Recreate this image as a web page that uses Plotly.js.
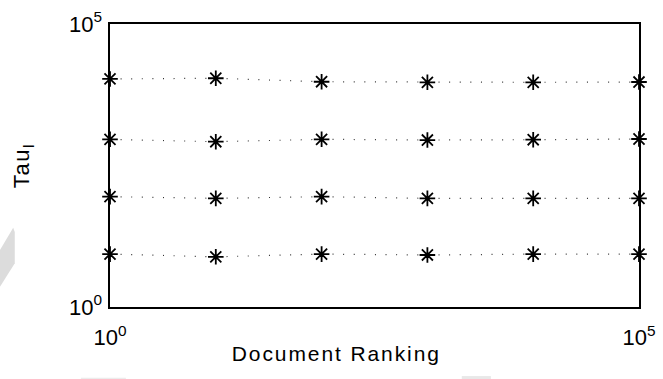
<!DOCTYPE html>
<html>
<head>
<meta charset="utf-8">
<script src="https://cdn.plot.ly/plotly-3.0.1.min.js"></script>
<style>
  html, body { margin: 0; padding: 0; background: #fff; }
  #chart { width: 663px; height: 379px; }
  /* slightly loose lettering for the axis titles */
  #chart .annotation-text { letter-spacing: 1.9px; }
  #chart .ytitle { letter-spacing: 1.6px; }
</style>
</head>
<body>
<div id="chart"></div>
<script>
// Document ranking positions (x) and the four tau_l levels measured at each
const ranks = [1, 10, 100, 1000, 10000, 100000];
const tauRow1 = [10700, 11000, 9550, 9330, 9330, 9440];
const tauRow2 = [918, 832, 918, 891, 903, 929];
const tauRow3 = [89, 83, 89, 83, 83, 83];
const tauRow4 = [8.6, 7.7, 8.6, 8.3, 8.6, 8.6];

// Decade tick labels shown on both axes
const tickValues = [1, 100000];
const tickLabels = ['10<sup>0</sup>', '10<sup>5</sup>'];

const xTitle = 'Document Ranking';
const yTitle = 'Tau<sub>l</sub>';

const rows = [tauRow1, tauRow2, tauRow3, tauRow4];
const FONT = 'Liberation Sans, Arial, Helvetica, sans-serif';

const traces = rows.map(vals => ({
  x: ranks,
  y: vals,
  type: 'scatter',
  mode: 'lines+markers',
  line: { color: '#333', width: 1.2, dash: '1px,9.6px' },
  marker: {
    symbol: 'asterisk-open',
    size: 13,
    color: '#000',
    line: { color: '#000', width: 1.8 }
  },
  cliponaxis: false,
  showlegend: false,
  hoverinfo: 'x+y'
}));

const axisBase = {
  type: 'log',
  range: [0, 5],
  showgrid: false,
  zeroline: false,
  showline: true,
  mirror: true,
  linecolor: '#000',
  linewidth: 1.6,
  ticks: '',
  tickmode: 'array',
  tickvals: tickValues,
  ticktext: tickLabels,
  tickfont: { family: FONT, size: 22, color: '#000' }
};

const layout = {
  width: 663,
  height: 379,
  margin: { l: 110, r: 24, t: 24, b: 72 },
  paper_bgcolor: '#fff',
  plot_bgcolor: '#fff',
  font: { family: FONT, color: '#000' },
  xaxis: Object.assign({}, axisBase, { ticklabelstandoff: 10 }),
  yaxis: Object.assign({}, axisBase, {
    ticklabelstandoff: 2,
    title: { text: yTitle, font: { family: FONT, size: 22, color: '#000' }, standoff: 33 }
  }),
  // x-axis title, set a little left of the plot centre
  annotations: [{
    text: xTitle,
    xref: 'paper', yref: 'paper',
    x: 0.428, y: -0.118,
    xanchor: 'center', yanchor: 'top',
    showarrow: false,
    font: { family: FONT, size: 21, color: '#000' }
  }],
  shapes: [
    // faint grey marks along the page edges
    {
      type: 'path', xref: 'paper', yref: 'paper', layer: 'below',
      path: 'M -0.208 0.201 L -0.183 0.28 L -0.18 0.265 L -0.18 0.155 L -0.208 0.071 Z',
      fillcolor: '#dcdcdc', line: { width: 0 }
    },
    {
      type: 'rect', xref: 'paper', yref: 'paper', layer: 'below',
      x0: 0.665, x1: 0.72, y0: -0.244, y1: -0.26,
      fillcolor: '#e8e8e8', line: { width: 0 }
    },
    {
      type: 'rect', xref: 'paper', yref: 'paper', layer: 'below',
      x0: -0.055, x1: 0.03, y0: -0.25, y1: -0.26,
      fillcolor: '#ececec', line: { width: 0 }
    }
  ]
};

Plotly.newPlot('chart', traces, layout, { staticPlot: true, displayModeBar: false });
</script>
</body>
</html>
